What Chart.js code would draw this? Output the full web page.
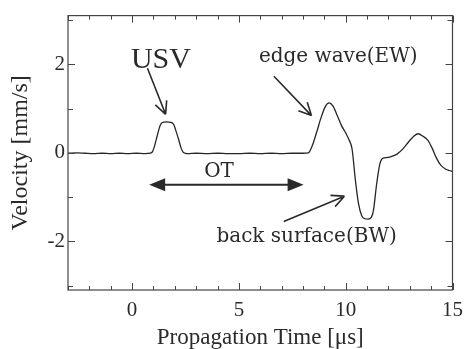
<!DOCTYPE html>
<html>
<head>
<meta charset="utf-8">
<script src="https://cdn.jsdelivr.net/npm/chart.js@4.4.0/dist/chart.umd.min.js"></script>
<style>
  html, body { margin: 0; padding: 0; background: #fff; }
  #wrap { width: 471px; height: 349px; position: relative; }
</style>
</head>
<body>
<div id="wrap"><canvas id="chart"></canvas></div>
<script>
// ── DATA ──────────────────────────────────────────────────
const timeUs = [-3, -2.6, -2.2, -1.8, -1.4, -1.0, -0.6, -0.2, 0.2, 0.6, 0.85, 0.95, 1.05, 1.18, 1.3, 1.4, 1.6, 1.8, 1.95, 2.05, 2.18, 2.3, 2.42, 2.6,
  3.0, 3.5, 4.0, 4.5, 5.0, 5.5, 6.0, 6.5, 7.0, 7.5, 8.0, 8.25, 8.45, 8.65, 8.85, 9.05, 9.22, 9.4, 9.6, 9.8, 10.0, 10.15, 10.3,
  10.45, 10.6, 10.75, 10.9, 11.05, 11.2, 11.3, 11.45, 11.6, 11.75, 11.9, 12.1, 12.4, 12.7, 12.95, 13.2, 13.4, 13.6, 13.85,
  14.05, 14.25, 14.45, 14.65, 14.85, 15];
const velocity = [-0.01, 0.0, -0.01, -0.02, -0.01, -0.02, -0.01, -0.02, -0.01, -0.02, -0.01, 0.02, 0.15, 0.39, 0.6, 0.68, 0.70, 0.69, 0.64, 0.50, 0.30, 0.10, 0.0, -0.02,
  -0.01, -0.02, -0.01, -0.02, -0.02, -0.01, -0.02, -0.01, -0.02, -0.01, -0.01, 0.0, 0.18, 0.48, 0.80, 1.05, 1.13, 1.06, 0.85, 0.62, 0.45, 0.30, 0.08,
  -0.60, -1.15, -1.42, -1.49, -1.50, -1.46, -1.30, -0.70, -0.25, -0.12, -0.11, -0.09, -0.03, 0.10, 0.25, 0.38, 0.43, 0.38, 0.28,
  0.10, -0.12, -0.28, -0.36, -0.40, -0.42];

const xTickLabels = [0, 5, 10, 15];
const yTickLabels = [-2, 0, 2];

const SERIF = '"Liberation Serif", "DejaVu Serif", serif';
const WIDE = '"DejaVu Serif", "Liberation Serif", serif';
const INK = '#2a2a2a';

// annotations in data coordinates: [text, x, y, size, family]
const labels = [
  ['USV', 1.35, 2.09, 30, SERIF],
  ['edge wave(EW)', 9.65, 2.16, 20, WIDE],
  ['back surface(BW)', 8.17, -1.89, 20, WIDE],
  ['OT', 4.07, -0.44, 20, WIDE],
];
// arrows: [fromX, fromY, toX, toY]
const arrows = [
  [0.72, 1.91, 1.57, 0.87],
  [6.64, 1.73, 8.40, 0.84],
  [7.10, -1.55, 9.94, -0.98],
];
const otSpan = [0.8, 8.03, -0.72];

// ── PLUGIN: frame, inward ticks, annotations ──────────────
const decor = {
  id: 'decor',
  afterDraw(chart) {
    const { ctx, chartArea: a, scales: { x, y } } = chart;
    ctx.save();
    ctx.strokeStyle = '#444';
    ctx.lineWidth = 1.2;
    ctx.strokeRect(a.left, a.top, a.right - a.left, a.bottom - a.top);

    // inward ticks
    ctx.lineWidth = 1;
    for (let t = -3; t <= 15; t++) {
      const px = Math.round(x.getPixelForValue(t)) + 0.5;
      const len = t % 5 === 0 ? 7 : 4;
      ctx.beginPath();
      ctx.moveTo(px, a.bottom); ctx.lineTo(px, a.bottom - len);
      ctx.moveTo(px, a.top); ctx.lineTo(px, a.top + len);
      ctx.stroke();
    }
    for (let v = -3; v <= 3; v++) {
      const py = Math.round(y.getPixelForValue(v)) + 0.5;
      const len = v % 2 === 0 ? 7 : 5;
      ctx.beginPath();
      ctx.moveTo(a.left, py); ctx.lineTo(a.left + len, py);
      ctx.moveTo(a.right, py); ctx.lineTo(a.right - len, py);
      ctx.stroke();
    }

    // text labels
    ctx.fillStyle = INK;
    ctx.textAlign = 'center';
    ctx.textBaseline = 'middle';
    labels.forEach(([txt, lx, ly, size, fam]) => {
      ctx.font = size + 'px ' + fam;
      ctx.fillText(txt, x.getPixelForValue(lx), y.getPixelForValue(ly));
    });

    // open arrows
    ctx.strokeStyle = INK;
    ctx.lineWidth = 1.6;
    arrows.forEach(([x0, y0, x1, y1]) => {
      const p0 = [x.getPixelForValue(x0), y.getPixelForValue(y0)];
      const p1 = [x.getPixelForValue(x1), y.getPixelForValue(y1)];
      const ang = Math.atan2(p1[1] - p0[1], p1[0] - p0[0]);
      ctx.beginPath();
      ctx.moveTo(p0[0], p0[1]); ctx.lineTo(p1[0], p1[1]);
      [-0.45, 0.45].forEach(d => {
        ctx.moveTo(p1[0], p1[1]);
        ctx.lineTo(p1[0] - 14 * Math.cos(ang + d), p1[1] - 14 * Math.sin(ang + d));
      });
      ctx.stroke();
    });

    // OT double arrow
    const xa = x.getPixelForValue(otSpan[0]);
    const xb = x.getPixelForValue(otSpan[1]);
    const yo = y.getPixelForValue(otSpan[2]);
    ctx.lineWidth = 2;
    ctx.beginPath();
    ctx.moveTo(xa + 10, yo); ctx.lineTo(xb - 10, yo);
    ctx.stroke();
    ctx.beginPath();
    ctx.moveTo(xa, yo); ctx.lineTo(xa + 16, yo - 6.5); ctx.lineTo(xa + 16, yo + 6.5); ctx.closePath();
    ctx.moveTo(xb, yo); ctx.lineTo(xb - 16, yo - 6.5); ctx.lineTo(xb - 16, yo + 6.5); ctx.closePath();
    ctx.fill();
    ctx.restore();
  }
};

// ── CHART ─────────────────────────────────────────────────
const points = timeUs.map((t, i) => ({ x: t, y: velocity[i] }));

new Chart(document.getElementById('chart'), {
  type: 'line',
  data: {
    datasets: [{
      data: points,
      borderColor: '#262626',
      borderWidth: 1.3,
      pointRadius: 0,
      tension: 0.4,
      cubicInterpolationMode: 'monotone',
      fill: false,
    }]
  },
  options: {
    responsive: true,
    maintainAspectRatio: false,
    animation: false,
    layout: { padding: { top: 12, right: 13, left: 6, bottom: 0 } },
    plugins: { legend: { display: false }, tooltip: { enabled: false } },
    scales: {
      x: {
        type: 'linear',
        min: -3, max: 15,
        border: { display: false },
        grid: { display: false, drawTicks: false },
        afterFit: s => { s.height = 59; },
        afterBuildTicks: s => { s.ticks = xTickLabels.map(v => ({ value: v })); },
        ticks: { color: INK, padding: 8, font: { family: SERIF, size: 21 } },
        title: {
          display: true, text: 'Propagation Time [\u03bcs]', color: INK,
          font: { family: SERIF, size: 23 }, padding: { top: 0, bottom: -3 }
        }
      },
      y: {
        min: -3.1, max: 3.1,
        border: { display: false },
        grid: { display: false, drawTicks: false },
        afterFit: s => { s.width = 62; },
        afterBuildTicks: s => { s.ticks = yTickLabels.map(v => ({ value: v })); },
        ticks: { color: INK, padding: 3, font: { family: SERIF, size: 21 } },
        title: {
          display: true, text: 'Velocity [mm/s]', color: INK,
          font: { family: SERIF, size: 24 }, padding: { top: 0, bottom: 0 }
        }
      }
    }
  },
  plugins: [decor]
});
</script>
</body>
</html>
